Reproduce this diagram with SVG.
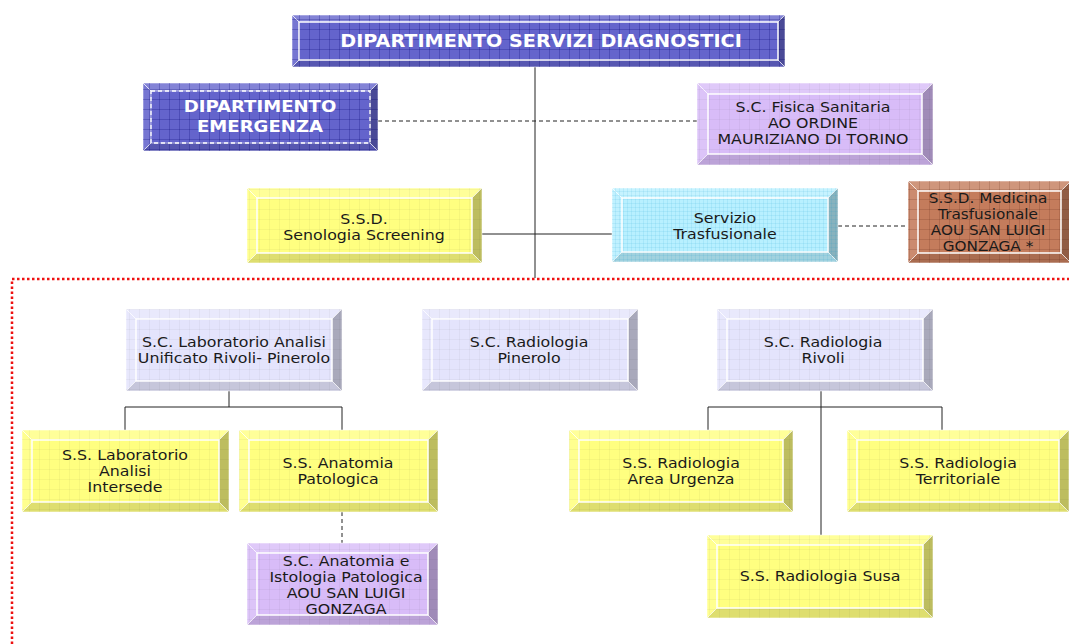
<svg xmlns="http://www.w3.org/2000/svg" width="1069" height="644" viewBox="0 0 1069 644">
<defs>
<pattern id="gridL" width="10" height="10" patternUnits="userSpaceOnUse"><path d="M10 0V10M0 10H10" fill="none" stroke="#000" stroke-opacity="0.07" stroke-width="1"/></pattern>
<pattern id="gridB" width="10" height="10" patternUnits="userSpaceOnUse"><path d="M10 0V10M0 10H10" fill="none" stroke="#000070" stroke-opacity="0.45" stroke-width="1"/></pattern>
<pattern id="gridC" width="4" height="4" patternUnits="userSpaceOnUse"><path d="M4 0V4M0 4H4" fill="none" stroke="#0090c0" stroke-opacity="0.18" stroke-width="1"/></pattern>
<pattern id="gridR" width="10" height="10" patternUnits="userSpaceOnUse"><path d="M10 0V10M0 10H10" fill="none" stroke="#5a2010" stroke-opacity="0.35" stroke-width="1"/></pattern>
</defs>
<style>
.blue{fill:#6464cc}
.yel{fill:#ffff80}
.lav{fill:#e4e4fc}
.pur{fill:#d8bcf8}
.cya{fill:#b8f0ff}
.bro{fill:#c47c5c}
.bt{fill:#fff;fill-opacity:.2}
.bl{fill:#fff;fill-opacity:.12}
.br{fill:#000;fill-opacity:.26}
.bb{fill:#000;fill-opacity:.13}
.bev polygon{stroke:#fff;stroke-opacity:.55;stroke-width:1}
.face{fill:none;stroke:#fff;stroke-width:1.3}
.faced{fill:none;stroke:#fff;stroke-width:1.3;stroke-dasharray:4 3}
.t{font-family:"DejaVu Sans",Verdana,sans-serif;font-size:14px;fill:#1a1a1a;text-anchor:middle}
.ts{font-size:13.5px}
.tw{font-family:"DejaVu Sans",Verdana,sans-serif;font-weight:bold;fill:#fff;text-anchor:middle}
.ln{fill:none;stroke:#222;stroke-width:1}
.dash{fill:none;stroke:#222;stroke-width:1;stroke-dasharray:4 3}
.red{fill:none;stroke:#ee1111;stroke-width:2.5;stroke-dasharray:2.5 2.5}
</style>

<g id="connectors">
<path class="red" d="M12 644V279H1069"/>
<path class="ln" d="M535 67V278"/>
<path class="dash" d="M378 121H697"/>
<path class="ln" d="M482 234H612"/>
<path class="dash" d="M838 226H908"/>
<path class="ln" d="M229 391V407M125 430V407H342V430"/>
<path class="dash" d="M342 512V543"/>
<path class="ln" d="M821 391V535M708 430V407H942V430"/>
</g>

<g id="n-dsd">
<rect class="blue" x="292" y="15" width="493" height="52"/>
<g class="bev"><polygon class="bt" points="292,15 785,15 778,22 299,22"/><polygon class="bl" points="292,15 299,22 299,60 292,67"/><polygon class="br" points="785,15 785,67 778,60 778,22"/><polygon class="bb" points="292,67 299,60 778,60 785,67"/></g>
<rect x="292" y="15" width="493" height="52" fill="url(#gridB)"/>
<rect class="face" x="299" y="22" width="479" height="38"/>
<text class="tw" font-size="17" transform="translate(541 0) scale(1.13 1)"><tspan x="0" y="47">DIPARTIMENTO SERVIZI DIAGNOSTICI</tspan></text>
</g>

<g id="n-emergenza">
<rect class="blue" x="143" y="83" width="235" height="68"/>
<g class="bev"><polygon class="bt" points="143,83 378,83 370,91 151,91"/><polygon class="bl" points="143,83 151,91 151,143 143,151"/><polygon class="br" points="378,83 378,151 370,143 370,91"/><polygon class="bb" points="143,151 151,143 370,143 378,151"/></g>
<rect x="143" y="83" width="235" height="68" fill="url(#gridB)"/>
<rect class="faced" x="151" y="91" width="219" height="52"/>
<text class="tw" font-size="16" transform="translate(260 0) scale(1.13 1)"><tspan x="0" y="112">DIPARTIMENTO</tspan><tspan x="0" y="132">EMERGENZA</tspan></text>
</g>

<g id="n-fisica">
<rect class="pur" x="697" y="83" width="236" height="82"/>
<g class="bev"><polygon class="bt" points="697,83 933,83 922,94 708,94"/><polygon class="bl" points="697,83 708,94 708,154 697,165"/><polygon class="br" points="933,83 933,165 922,154 922,94"/><polygon class="bb" points="697,165 708,154 922,154 933,165"/></g>
<rect x="697" y="83" width="236" height="82" fill="url(#gridL)"/>
<rect class="face" x="708" y="94" width="214" height="60"/>
<text class="t" transform="translate(813 0) scale(1.13 1)"><tspan x="0" y="112">S.C. Fisica Sanitaria</tspan><tspan x="0" y="128">AO ORDINE</tspan><tspan x="0" y="144">MAURIZIANO DI TORINO</tspan></text>
</g>

<g id="n-senologia">
<rect class="yel" x="247" y="188" width="235" height="75"/>
<g class="bev"><polygon class="bt" points="247,188 482,188 472,198 257,198"/><polygon class="bl" points="247,188 257,198 257,253 247,263"/><polygon class="br" points="482,188 482,263 472,253 472,198"/><polygon class="bb" points="247,263 257,253 472,253 482,263"/></g>
<rect x="247" y="188" width="235" height="75" fill="url(#gridL)"/>
<rect class="face" x="257" y="198" width="215" height="55"/>
<text class="t" transform="translate(364 0) scale(1.13 1)"><tspan x="0" y="224">S.S.D.</tspan><tspan x="0" y="240">Senologia Screening</tspan></text>
</g>

<g id="n-trasfusionale">
<rect class="cya" x="612" y="188" width="226" height="74"/>
<g class="bev"><polygon class="bt" points="612,188 838,188 828,198 622,198"/><polygon class="bl" points="612,188 622,198 622,252 612,262"/><polygon class="br" points="838,188 838,262 828,252 828,198"/><polygon class="bb" points="612,262 622,252 828,252 838,262"/></g>
<rect x="612" y="188" width="226" height="74" fill="url(#gridC)"/>
<rect class="face" x="622" y="198" width="206" height="54"/>
<text class="t" transform="translate(725 0) scale(1.13 1)"><tspan x="0" y="223">Servizio</tspan><tspan x="0" y="239">Trasfusionale</tspan></text>
</g>

<g id="n-medicina">
<rect class="bro" x="908" y="181" width="163" height="82"/>
<g class="bev"><polygon class="bt" points="908,181 1071,181 1061,191 918,191"/><polygon class="bl" points="908,181 918,191 918,253 908,263"/><polygon class="br" points="1071,181 1071,263 1061,253 1061,191"/><polygon class="bb" points="908,263 918,253 1061,253 1071,263"/></g>
<rect x="908" y="181" width="163" height="82" fill="url(#gridR)"/>
<rect class="face" x="918" y="191" width="143" height="62"/>
<text class="t ts" transform="translate(988 0) scale(1.13 1)"><tspan x="0" y="203">S.S.D. Medicina</tspan><tspan x="0" y="219">Trasfusionale</tspan><tspan x="0" y="235">AOU SAN LUIGI</tspan><tspan x="0" y="251">GONZAGA *</tspan></text>
</g>

<g id="n-laboratorio">
<rect class="lav" x="126" y="309" width="216" height="82"/>
<g class="bev"><polygon class="bt" points="126,309 342,309 332,319 136,319"/><polygon class="bl" points="126,309 136,319 136,381 126,391"/><polygon class="br" points="342,309 342,391 332,381 332,319"/><polygon class="bb" points="126,391 136,381 332,381 342,391"/></g>
<rect x="126" y="309" width="216" height="82" fill="url(#gridL)"/>
<rect class="face" x="136" y="319" width="196" height="62"/>
<text class="t" transform="translate(234 0) scale(1.13 1)"><tspan x="0" y="347">S.C. Laboratorio Analisi</tspan><tspan x="0" y="363">Unificato Rivoli- Pinerolo</tspan></text>
</g>

<g id="n-pinerolo">
<rect class="lav" x="422" y="309" width="216" height="82"/>
<g class="bev"><polygon class="bt" points="422,309 638,309 628,319 432,319"/><polygon class="bl" points="422,309 432,319 432,381 422,391"/><polygon class="br" points="638,309 638,391 628,381 628,319"/><polygon class="bb" points="422,391 432,381 628,381 638,391"/></g>
<rect x="422" y="309" width="216" height="82" fill="url(#gridL)"/>
<rect class="face" x="432" y="319" width="196" height="62"/>
<text class="t" transform="translate(529 0) scale(1.13 1)"><tspan x="0" y="347">S.C. Radiologia</tspan><tspan x="0" y="363">Pinerolo</tspan></text>
</g>

<g id="n-rivoli">
<rect class="lav" x="717" y="309" width="216" height="82"/>
<g class="bev"><polygon class="bt" points="717,309 933,309 923,319 727,319"/><polygon class="bl" points="717,309 727,319 727,381 717,391"/><polygon class="br" points="933,309 933,391 923,381 923,319"/><polygon class="bb" points="717,391 727,381 923,381 933,391"/></g>
<rect x="717" y="309" width="216" height="82" fill="url(#gridL)"/>
<rect class="face" x="727" y="319" width="196" height="62"/>
<text class="t" transform="translate(823 0) scale(1.13 1)"><tspan x="0" y="347">S.C. Radiologia</tspan><tspan x="0" y="363">Rivoli</tspan></text>
</g>

<g id="n-intersede">
<rect class="yel" x="22" y="430" width="207" height="82"/>
<g class="bev"><polygon class="bt" points="22,430 229,430 219,440 32,440"/><polygon class="bl" points="22,430 32,440 32,502 22,512"/><polygon class="br" points="229,430 229,512 219,502 219,440"/><polygon class="bb" points="22,512 32,502 219,502 229,512"/></g>
<rect x="22" y="430" width="207" height="82" fill="url(#gridL)"/>
<rect class="face" x="32" y="440" width="187" height="62"/>
<text class="t" transform="translate(125 0) scale(1.13 1)"><tspan x="0" y="460">S.S. Laboratorio</tspan><tspan x="0" y="476">Analisi</tspan><tspan x="0" y="492">Intersede</tspan></text>
</g>

<g id="n-anatomia">
<rect class="yel" x="239" y="430" width="199" height="82"/>
<g class="bev"><polygon class="bt" points="239,430 438,430 428,440 249,440"/><polygon class="bl" points="239,430 249,440 249,502 239,512"/><polygon class="br" points="438,430 438,512 428,502 428,440"/><polygon class="bb" points="239,512 249,502 428,502 438,512"/></g>
<rect x="239" y="430" width="199" height="82" fill="url(#gridL)"/>
<rect class="face" x="249" y="440" width="179" height="62"/>
<text class="t" transform="translate(338 0) scale(1.13 1)"><tspan x="0" y="468">S.S. Anatomia</tspan><tspan x="0" y="484">Patologica</tspan></text>
</g>

<g id="n-istologia">
<rect class="pur" x="247" y="543" width="191" height="82"/>
<g class="bev"><polygon class="bt" points="247,543 438,543 428,553 257,553"/><polygon class="bl" points="247,543 257,553 257,615 247,625"/><polygon class="br" points="438,543 438,625 428,615 428,553"/><polygon class="bb" points="247,625 257,615 428,615 438,625"/></g>
<rect x="247" y="543" width="191" height="82" fill="url(#gridL)"/>
<rect class="face" x="257" y="553" width="171" height="62"/>
<text class="t" transform="translate(346 0) scale(1.13 1)"><tspan x="0" y="566">S.C. Anatomia e</tspan><tspan x="0" y="582">Istologia Patologica</tspan><tspan x="0" y="598">AOU SAN LUIGI</tspan><tspan x="0" y="614">GONZAGA</tspan></text>
</g>

<g id="n-urgenza">
<rect class="yel" x="569" y="430" width="224" height="82"/>
<g class="bev"><polygon class="bt" points="569,430 793,430 783,440 579,440"/><polygon class="bl" points="569,430 579,440 579,502 569,512"/><polygon class="br" points="793,430 793,512 783,502 783,440"/><polygon class="bb" points="569,512 579,502 783,502 793,512"/></g>
<rect x="569" y="430" width="224" height="82" fill="url(#gridL)"/>
<rect class="face" x="579" y="440" width="204" height="62"/>
<text class="t" transform="translate(681 0) scale(1.13 1)"><tspan x="0" y="468">S.S. Radiologia</tspan><tspan x="0" y="484">Area Urgenza</tspan></text>
</g>

<g id="n-territoriale">
<rect class="yel" x="847" y="430" width="222" height="82"/>
<g class="bev"><polygon class="bt" points="847,430 1069,430 1059,440 857,440"/><polygon class="bl" points="847,430 857,440 857,502 847,512"/><polygon class="br" points="1069,430 1069,512 1059,502 1059,440"/><polygon class="bb" points="847,512 857,502 1059,502 1069,512"/></g>
<rect x="847" y="430" width="222" height="82" fill="url(#gridL)"/>
<rect class="face" x="857" y="440" width="202" height="62"/>
<text class="t" transform="translate(958 0) scale(1.13 1)"><tspan x="0" y="468">S.S. Radiologia</tspan><tspan x="0" y="484">Territoriale</tspan></text>
</g>

<g id="n-susa">
<rect class="yel" x="707" y="535" width="226" height="83"/>
<g class="bev"><polygon class="bt" points="707,535 933,535 923,545 717,545"/><polygon class="bl" points="707,535 717,545 717,608 707,618"/><polygon class="br" points="933,535 933,618 923,608 923,545"/><polygon class="bb" points="707,618 717,608 923,608 933,618"/></g>
<rect x="707" y="535" width="226" height="83" fill="url(#gridL)"/>
<rect class="face" x="717" y="545" width="206" height="63"/>
<text class="t" transform="translate(820 0) scale(1.13 1)"><tspan x="0" y="581">S.S. Radiologia Susa</tspan></text>
</g>
</svg>
